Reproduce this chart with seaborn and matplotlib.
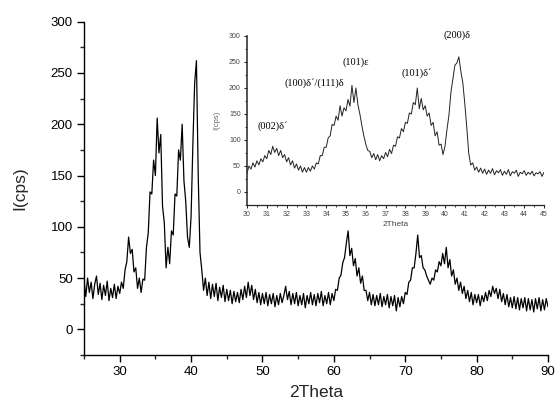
import numpy as np
import pandas as pd
import matplotlib
matplotlib.use("Agg")
import matplotlib.pyplot as plt
from matplotlib.ticker import MultipleLocator
import seaborn as sns

# ---------------- data ----------------
# main pattern: 2Theta from 25 to 90 in steps of 0.25 deg
main_start, main_step = 25.0, 0.25
main_counts = [
    48, 32, 50, 36, 46, 30, 44, 52, 34, 45, 29, 43, 33, 47, 28, 40, 31, 44, 30, 42,          # 25
    35, 46, 40, 58, 66, 90, 74, 78, 56, 60, 40, 50, 36, 49, 48, 80, 94, 134, 132, 165,      # 30
    150, 206, 172, 190, 120, 104, 60, 80, 64, 96, 92, 132, 130, 175, 165, 200, 145, 125, 90, 80,  # 35
    110, 180, 240, 262, 150, 75, 58, 38, 50, 33, 46, 30, 44, 32, 45, 28, 41, 31, 43, 27,    # 40
    39, 28, 38, 25, 37, 27, 36, 26, 39, 29, 42, 31, 46, 33, 43, 29, 39, 26, 36, 24,         # 45
    35, 25, 36, 23, 34, 25, 35, 22, 33, 24, 35, 26, 33, 42, 29, 37, 24, 35, 25, 36,         # 50
    23, 33, 24, 35, 21, 33, 25, 36, 24, 34, 23, 35, 26, 37, 23, 33, 25, 36, 24, 35,         # 55
    28, 39, 38, 50, 53, 65, 70, 84, 96, 72, 79, 62, 69, 52, 60, 45, 52, 38, 38, 28,         # 60
    36, 24, 34, 23, 33, 24, 35, 22, 32, 24, 34, 21, 32, 23, 33, 18, 31, 22, 32, 25,         # 65
    36, 34, 46, 48, 60, 60, 74, 92, 70, 72, 60, 58, 52, 48, 44, 50, 48, 58, 56, 66,         # 70
    62, 74, 64, 80, 60, 68, 52, 58, 44, 50, 38, 46, 35, 42, 30, 38, 27, 36, 24, 34,         # 75
    26, 34, 23, 33, 27, 36, 28, 38, 32, 42, 35, 40, 30, 39, 27, 35, 24, 34, 22, 31,         # 80
    21, 32, 20, 31, 19, 30, 21, 31, 18, 30, 19, 29, 17, 30, 20, 31, 18, 29, 19, 30,         # 85
    22,                                                                                      # 90
]

# inset pattern: 2Theta from 30 to 45 in steps of 0.1 deg
inset_start, inset_step = 30.0, 0.1
inset_counts = [
    36, 50, 44, 56, 48, 60, 52, 64, 58, 70,
    64, 80, 72, 88, 76, 84, 70, 80, 66, 72,
    58, 66, 52, 60, 46, 54, 42, 50, 38, 47,
    38, 47, 40, 50, 44, 56, 54, 70, 70, 86,
    86, 104, 108, 130, 128, 146, 138, 166, 146, 162,
    156, 178, 165, 205, 172, 200, 168, 150, 128, 108,
    92, 80, 78, 66, 74, 62, 72, 60, 70, 64,
    76, 68, 82, 74, 90, 88, 106, 104, 122, 116,
    134, 132, 152, 150, 172, 168, 200, 160, 180, 158,
    166, 146, 152, 128, 134, 108, 116, 90, 92, 72,
    88, 120, 148, 192, 218, 244, 248, 260, 232, 210,
    170, 124, 74, 52, 56, 42, 48, 38, 46, 36,
    44, 34, 42, 36, 45, 33, 41, 37, 43, 32,
    40, 34, 43, 31, 39, 36, 42, 30, 38, 35,
    41, 32, 38, 34, 40, 31, 37, 35, 39, 30,
    38,
]

peak_labels = ["(002)δ´", "(100)δ´/(111)δ", "(101)ε", "(101)δ´", "(200)δ"]
peak_label_x = [31.3, 33.4, 35.5, 38.55, 40.6]
peak_label_y = [126, 209, 250, 229, 301]

main_xticks = [30, 40, 50, 60, 70, 80, 90]
main_yticks = [0, 50, 100, 150, 200, 250, 300]
inset_xticks = list(range(30, 46))
inset_yticks = [0, 50, 100, 150, 200, 250, 300]

# ---------------- frames ----------------
main_df = pd.DataFrame({
    "2Theta": main_start + main_step * np.arange(len(main_counts)),
    "I": main_counts,
})
inset_df = pd.DataFrame({
    "2Theta": inset_start + inset_step * np.arange(len(inset_counts)),
    "I": inset_counts,
})

# ---------------- style ----------------
sns.set_style("ticks")
plt.rcParams["font.family"] = ["Liberation Sans", "DejaVu Sans"]

W, H = 556, 403
fig = plt.figure(figsize=(W / 100, H / 100), dpi=100)

# main axes
ax = fig.add_axes([84 / W, 1 - 355 / H, (548 - 84) / W, (355 - 21.7) / H])
sns.lineplot(data=main_df, x="2Theta", y="I", ax=ax, color="black",
             linewidth=0.9, estimator=None, sort=False)
ax.set_xlim(25, 90)
ax.set_ylim(-25, 300)
ax.set_xticks(main_xticks)
ax.set_yticks(main_yticks)
ax.xaxis.set_minor_locator(MultipleLocator(5))
ax.yaxis.set_minor_locator(MultipleLocator(25))
ax.tick_params(which="major", direction="out", length=5, width=1, labelsize=9.5,
               pad=3, colors="black")
ax.tick_params(which="minor", direction="out", length=3, width=1)
for s in ["top", "right"]:
    ax.spines[s].set_visible(False)
for s in ["left", "bottom"]:
    ax.spines[s].set_linewidth(1.0)
    ax.spines[s].set_color("black")
ax.set_xlabel("2Theta", fontsize=12.5, labelpad=5)
ax.set_ylabel("I(cps)", fontsize=12.5, labelpad=17)

# inset axes
ia = fig.add_axes([247 / W, 1 - 205 / H, (544 - 247) / W, (205 - 36) / H])
ia.patch.set_alpha(0)
sns.lineplot(data=inset_df, x="2Theta", y="I", ax=ia, color="#222222",
             linewidth=0.7, estimator=None, sort=False)
ia.set_xlim(30, 45)
ia.set_ylim(-25, 300)
ia.set_xticks(inset_xticks)
ia.set_yticks(inset_yticks)
ia.xaxis.set_minor_locator(MultipleLocator(0.5))
ia.yaxis.set_minor_locator(MultipleLocator(25))
ia.tick_params(which="major", direction="out", length=2.5, width=0.8,
               labelsize=5, pad=2, labelcolor="#444444")
ia.tick_params(which="minor", direction="out", length=1.5, width=0.6)
for s in ["top", "right"]:
    ia.spines[s].set_visible(False)
ia.spines["left"].set_linewidth(1.1)
ia.spines["bottom"].set_linewidth(0.9)
ia.set_xlabel("2Theta", fontsize=6, labelpad=2, color="#444444")
ia.set_ylabel("I(cps)", fontsize=5.5, labelpad=6, color="#666666")

for t, x, y in zip(peak_labels, peak_label_x, peak_label_y):
    ia.text(x, y, t, ha="center", va="center", fontsize=7.5,
            family=["Liberation Serif", "DejaVu Serif"], color="black")

fig.savefig("out.png", dpi=100)
